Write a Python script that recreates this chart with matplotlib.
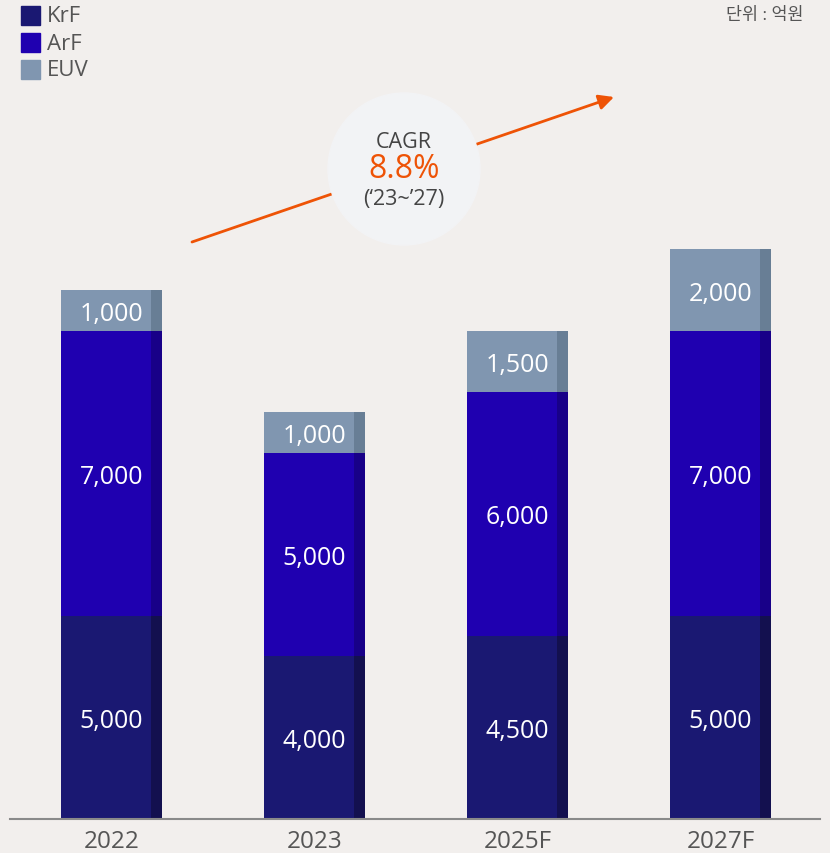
import matplotlib.pyplot as plt
from matplotlib.patches import Circle, Rectangle
import numpy as np

plt.rcParams['font.family'] = ['Open Sans', 'Noto Sans CJK KR', 'DejaVu Sans']

years = ['2022', '2023', '2025F', '2027F']
krf = [5000, 4000, 4500, 5000]
arf = [7000, 5000, 6000, 7000]
euv = [1000, 1000, 1500, 2000]
series_names = ['KrF', 'ArF', 'EUV']
front_colors = ['#1a1872', '#1f00b0', '#8096b0']
side_colors = ['#13104f', '#180088', '#687e95']
cagr_value = '8.8%'
cagr_period = "(\u201823~\u201927)"
unit_label = '단위 : 억원'

BG = '#f2efed'
W, H = 830, 854
fig = plt.figure(figsize=(W / 100, H / 100), dpi=100, facecolor=BG)

# axes spans the full width; its bottom edge is the baseline
base_px = 820
ax = fig.add_axes([0, (H - base_px) / H, 1, base_px / H])
ax.set_facecolor(BG)
px_per_unit = 529 / 13000
step = 203
x0 = 111.5
ax.set_xlim(-x0 / step, (W - x0) / step)
ax.set_ylim(0, base_px / px_per_unit)
for s in ax.spines.values():
    s.set_visible(False)
ax.set_xticks([])
ax.set_yticks([])

x = np.arange(len(years))
width = 101 / step
side_w = 11 / step
stack = [krf, arf, euv]
bottom = np.zeros(len(years))
for vals, fc, sc in zip(stack, front_colors, side_colors):
    vals = np.array(vals, dtype=float)
    ax.bar(x, vals, width=width, bottom=bottom, color=fc, linewidth=0, zorder=2)
    ax.bar(x + width / 2 - side_w / 2, vals, width=side_w, bottom=bottom,
           color=sc, linewidth=0, zorder=3)
    for xi, b, v in zip(x, bottom, vals):
        ax.text(xi, b + v / 2, f'{int(v):,}', ha='center', va='center_baseline',
                color='white', fontsize=18, zorder=4)
    bottom = bottom + vals

# baseline
ax.plot([-(x0 - 10) / step, (W - 10 - x0) / step], [0, 0], color='#8a8a8a',
        lw=1.5, clip_on=False, zorder=5)

# category labels
for xi, lab in zip(x, years):
    fig.text((x0 + step * xi) / W, 1 - 842 / H, lab, ha='center', va='center',
             fontsize=17.5, color='#555555')

# legend
for i, (name, fc) in enumerate(zip(series_names, front_colors)):
    top = 7 + i * 27
    fig.patches.append(Rectangle((21 / W, 1 - (top + 19) / H), 19 / W, 19 / H,
                                 transform=fig.transFigure, color=fc))
    fig.text(47 / W, 1 - (top + 10) / H, name, ha='left', va='center',
             fontsize=16, color='#555555')

fig.text(803 / W, 1 - 16 / H, unit_label, ha='right', va='center',
         fontsize=12.5, color='#555555')

# CAGR arrow and badge
ov = fig.add_axes([0, 0, 1, 1], facecolor='none')
ov.set_xlim(0, W)
ov.set_ylim(H, 0)
ov.axis('off')
ov.annotate('', xy=(614, 98), xytext=(192, 243),
            arrowprops=dict(arrowstyle='-|>,head_length=0.9,head_width=0.45',
                            color='#ee5306', lw=2, shrinkA=0, shrinkB=0))
ov.add_patch(Circle((404, 170), 76, color='#f2f3f5', zorder=3))
ov.text(404, 143, 'CAGR', ha='center', va='center', fontsize=15.5,
        color='#444444', zorder=4)
ov.text(404, 170, cagr_value, ha='center', va='center', fontsize=23,
        color='#ee5306', zorder=4)
ov.text(404, 200, cagr_period, ha='center', va='center', fontsize=15.5,
        color='#444444', zorder=4)

fig.savefig('out.png', dpi=100, facecolor=BG)
